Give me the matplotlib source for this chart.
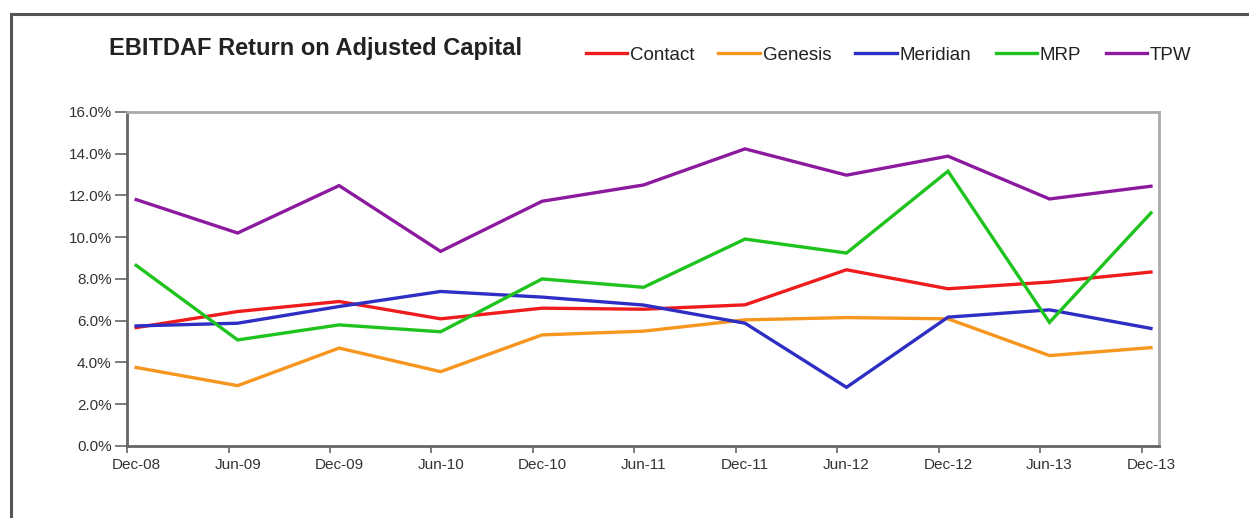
import matplotlib.pyplot as plt
from matplotlib.patches import Rectangle
from matplotlib.ticker import FuncFormatter

plt.rcParams['font.family'] = ['Liberation Sans', 'DejaVu Sans']

periods = ["Dec-08", "Jun-09", "Dec-09", "Jun-10", "Dec-10", "Jun-11",
           "Dec-11", "Jun-12", "Dec-12", "Jun-13", "Dec-13"]

contact = [5.67, 6.44, 6.92, 6.09, 6.60, 6.55, 6.76, 8.44, 7.53, 7.85, 8.33]
genesis = [3.76, 2.89, 4.69, 3.56, 5.32, 5.50, 6.04, 6.15, 6.09, 4.33, 4.71]
meridian = [5.75, 5.88, 6.68, 7.40, 7.13, 6.75, 5.88, 2.81, 6.17, 6.52, 5.63]
mrp = [8.65, 5.08, 5.80, 5.47, 8.00, 7.60, 9.91, 9.24, 13.16, 5.92, 11.16]
tpw = [11.80, 10.20, 12.47, 9.32, 11.72, 12.50, 14.23, 12.97, 13.88, 11.83, 12.44]

series = [("Contact", contact, "#EE1C1C"),
          ("Genesis", genesis, "#F7961E"),
          ("Meridian", meridian, "#2E2EC4"),
          ("MRP", mrp, "#1EC31E"),
          ("TPW", tpw, "#8C1A9E")]

fig = plt.figure(figsize=(12.49, 5.18), dpi=100)
ax = fig.add_axes([0.1017, 0.139, 0.8263, 0.645])

x = list(range(len(periods)))
for name, vals, col in series:
    ax.plot(x, vals, color=col, lw=2.4, label=name, solid_joinstyle='miter')

ax.set_ylim(0, 16)
ax.set_yticks(range(0, 17, 2))
ax.yaxis.set_major_formatter(FuncFormatter(lambda v, p: "%.1f%%" % v))
ax.set_xlim(-0.09, 10.08)
ax.set_xticks(x)
ax.set_xticklabels(periods)
# tick marks sit a little left of the points, like the original
ax.set_xticks([i - 0.09 for i in x], minor=True)
ax.tick_params(axis='x', which='major', length=0, pad=9, labelsize=11, colors='#333333')
ax.tick_params(axis='x', which='minor', length=5, width=1.2, color='#666666', direction='out')
ax.tick_params(axis='y', length=9, width=1.2, color='#666666', labelsize=11,
               labelcolor='#333333', pad=2)

for s in ('left', 'bottom'):
    ax.spines[s].set_color('#666666')
    ax.spines[s].set_linewidth(2)
for s in ('top', 'right'):
    ax.spines[s].set_color('#AAAAAA')
    ax.spines[s].set_linewidth(2)

fig.text(109 / 1249, 1 - 48 / 518, "EBITDAF Return on Adjusted Capital",
         fontsize=17, fontweight='bold', color='#222222', va='center', ha='left')

leg = fig.legend(loc='center left', bbox_to_anchor=(578 / 1249, 1 - 55 / 518),
                 ncol=5, frameon=False, fontsize=13.5, handlelength=2.2,
                 handletextpad=0.15, columnspacing=1.3, borderaxespad=0)
for t in leg.get_texts():
    t.set_color('#222222')

# outer frame of the original screenshot
fig.patches.append(Rectangle((11 / 1249, -0.1), 1.2, 1 - 14 / 518 + 0.1,
                             transform=fig.transFigure, fill=False,
                             edgecolor='#555555', lw=2.2))

fig.savefig("out.png", dpi=100)
